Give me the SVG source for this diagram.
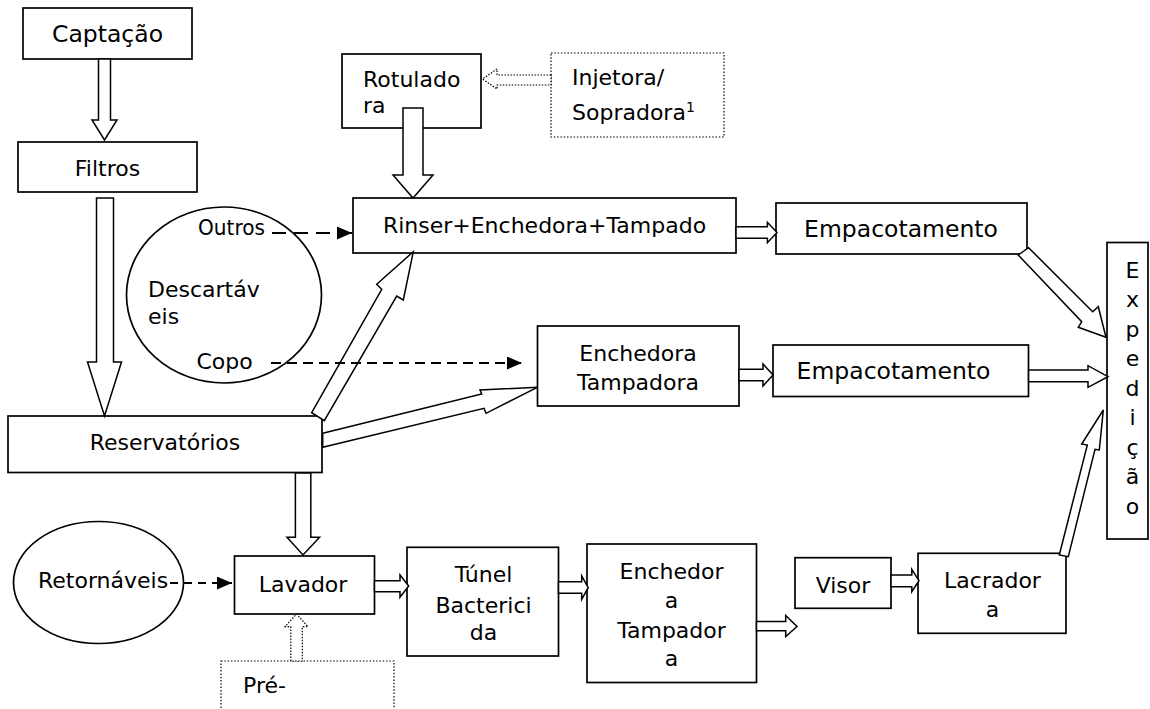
<svg xmlns="http://www.w3.org/2000/svg" width="1150" height="709" viewBox="0 0 1150 709">
<style>
.box{fill:#fff;stroke:#000;stroke-width:1.7}
.dot{fill:#fff;stroke:#000;stroke-width:1.2;stroke-dasharray:1.5 1.8}
.blk{fill:#fff;stroke:#000;stroke-width:1.5;stroke-linejoin:miter}
.blkd{fill:#fff;stroke:#000;stroke-width:1.2;stroke-dasharray:1.5 1.5}
.dash{fill:none;stroke:#000;stroke-width:2}
.t{font-family:"DejaVu Sans","Liberation Sans",sans-serif;font-size:22px;fill:#000}
.c{text-anchor:middle}
.big{font-size:23.5px}
</style>
<defs>
<marker id="tri" markerUnits="userSpaceOnUse" markerWidth="15" markerHeight="13" refX="15" refY="6.5" orient="auto">
<path d="M0,0 L15,6.5 L0,13 Z" fill="#000"/>
</marker>
</defs>
<rect width="1150" height="709" fill="#fff"/>
<g id="nodes">
<g id="captacao"><rect class="box" x="23" y="8" width="169" height="51"/><text class="t c big" x="107.5" y="42">Captação</text></g>
<g id="filtros"><rect class="box" x="18" y="142" width="179" height="50"/><text class="t c" x="107.5" y="176">Filtros</text></g>
<g id="rotuladora"><rect class="box" x="342" y="54" width="139" height="74"/><text class="t" x="363" y="87">Rotulado</text><text class="t" x="363" y="113">ra</text></g>
<g id="injetora"><rect class="dot" x="551" y="53" width="173" height="84"/><text class="t" x="572" y="85">Injetora/</text><text class="t" x="572" y="120">Sopradora<tspan font-size="14" dy="-8">1</tspan></text></g>
<g id="rinser"><rect class="box" x="353" y="198" width="383" height="55"/><text class="t c" x="544.5" y="233" font-size="22.5">Rinser+Enchedora+Tampado</text></g>
<g id="empacotamento1"><rect class="box" x="776" y="203" width="251" height="51"/><text class="t c big" x="901" y="237">Empacotamento</text></g>
<g id="descartaveis"><ellipse class="box" cx="224" cy="295" rx="97.5" ry="88"/><text class="t" x="198" y="235" textLength="67" lengthAdjust="spacingAndGlyphs">Outros</text><text class="t" x="148" y="296.5">Descartáv</text><text class="t" x="148" y="323.5">eis</text><text class="t" x="196.5" y="368.5">Copo</text></g>
<g id="enchedora-tampadora"><rect class="box" x="537.5" y="326" width="201.5" height="80"/><text class="t c" x="638" y="361">Enchedora</text><text class="t c" x="638" y="390">Tampadora</text></g>
<g id="empacotamento2"><rect class="box" x="773" y="345" width="255.5" height="51.5"/><text class="t c big" x="893.5" y="379">Empacotamento</text></g>
<g id="expedicao"><rect class="box" x="1107" y="242.5" width="41" height="296.5"/>
<text class="t c" x="1132.5" y="277.5">E</text><text class="t c" x="1132.5" y="307">x</text><text class="t c" x="1132.5" y="336.5">p</text><text class="t c" x="1132.5" y="366">e</text><text class="t c" x="1132.5" y="395.5">d</text><text class="t c" x="1132.5" y="425">i</text><text class="t c" x="1132.5" y="454.5">ç</text><text class="t c" x="1132.5" y="484">ã</text><text class="t c" x="1132.5" y="513.5">o</text></g>
<g id="reservatorios"><rect class="box" x="8" y="416" width="314" height="56.5"/><text class="t c" x="165" y="450">Reservatórios</text></g>
<g id="retornaveis"><ellipse class="box" cx="98.5" cy="582.5" rx="85" ry="61"/><text class="t" x="38" y="588">Retornáveis</text></g>
<g id="lavador"><rect class="box" x="234.5" y="556" width="140" height="58"/><text class="t c" x="303" y="592">Lavador</text></g>
<g id="tunel"><rect class="box" x="407" y="547.3" width="151.5" height="108.7"/><text class="t c" x="483.5" y="582">Túnel</text><text class="t c" x="483.5" y="612.5">Bacterici</text><text class="t c" x="483.5" y="640">da</text></g>
<g id="enchedora-tampadora-2"><rect class="box" x="587" y="544" width="169.5" height="138.5"/><text class="t c" x="671.5" y="579">Enchedor</text><text class="t c" x="671.5" y="607.5">a</text><text class="t c" x="671.5" y="638">Tampador</text><text class="t c" x="671.5" y="666">a</text></g>
<g id="visor"><rect class="box" x="795" y="557.7" width="96" height="50.6"/><text class="t c" x="843" y="593">Visor</text></g>
<g id="lacradora"><rect class="box" x="918" y="553.3" width="148" height="80"/><text class="t c" x="992.5" y="588">Lacrador</text><text class="t c" x="992.5" y="616.5">a</text></g>
<g id="pre"><rect class="dot" x="221" y="661" width="173" height="60"/><text class="t" x="243" y="693">Pré-</text></g>
</g>
<g id="connectors">
<polygon class="blk" points="98.5,59 110.5,59 110.5,120 117,120 104.5,140 92,120 98.5,120"/>
<polygon class="blk" points="96.5,198 113.5,198 113.5,362 121.5,362 104.5,416 87.5,362 96.5,362"/>
<polygon class="blk" points="403,108 423,108 423,175 433,175 413,198 393,175 403,175"/>
<polygon class="blkd" points="551,75 497,75 497,69 482.5,79 497,89 497,85 551,85"/>
<polygon class="blk" points="311.7,412.7 381.7,289.3 376.7,284.3 413.3,251.7 403.3,300 396.7,296 324.3,420.7"/>
<polygon class="blk" points="322.7,433.3 481.7,394 480,390 537.3,387.3 486,413.3 484,408.3 322.7,447.3"/>
<polygon class="blk" points="736,226.7 767.4,226.7 767.4,222.3 777,232.5 767.4,242.7 767.4,238.3 736,238.3"/>
<polygon class="blk" points="739,369.3 763,369.3 763,364 773,375 763,386 763,380.7 739,380.7"/>
<polygon class="blk" points="1028.6,370 1088,370 1088,365.7 1108,376.7 1088,387.3 1088,381.7 1028.6,381.7"/>
<polygon class="blk" points="1018.2,255 1081.7,321.7 1078.3,327.3 1106,337.3 1098.3,306.7 1092.7,311.7 1028.6,247.7"/>
<polygon class="blk" points="1059.3,555 1087.3,445 1081.7,444 1103.3,410 1099.3,450 1095,449.3 1068.3,556.7"/>
<polygon class="blk" points="295.4,473 310.8,473 310.8,537.3 319.6,537.3 303,555 287,537.3 295.4,537.3"/>
<polygon class="blk" points="374.5,580.7 400,580.7 400,575 408.7,586 400,597.3 400,591.7 374.5,591.7"/>
<polygon class="blk" points="558.5,581.7 581.7,581.7 581.7,576 588.2,587.7 581.7,599.3 581.7,593.3 558.5,593.3"/>
<polygon class="blk" points="756.5,621.5 785.7,621.5 785.7,615.5 797,626.5 785.7,636.5 785.7,630.7 756.5,630.7"/>
<polygon class="blk" points="891,575 911.8,575 911.8,569.3 919,580.7 911.8,591.7 911.8,586.7 891,586.7"/>
<polygon class="blkd" points="290.8,661 290.8,626.7 285,626.7 296.5,614 308,626.7 302.3,626.7 302.3,661"/>
<line class="dash" x1="272" y1="233" x2="352" y2="233" stroke-dasharray="14 8" marker-end="url(#tri)"/>
<line class="dash" x1="271" y1="363" x2="522" y2="363" stroke-dasharray="10 6" marker-end="url(#tri)"/>
<line class="dash" x1="170" y1="583" x2="232" y2="583" stroke-dasharray="8 6" marker-end="url(#tri)"/>
</g>
</svg>
